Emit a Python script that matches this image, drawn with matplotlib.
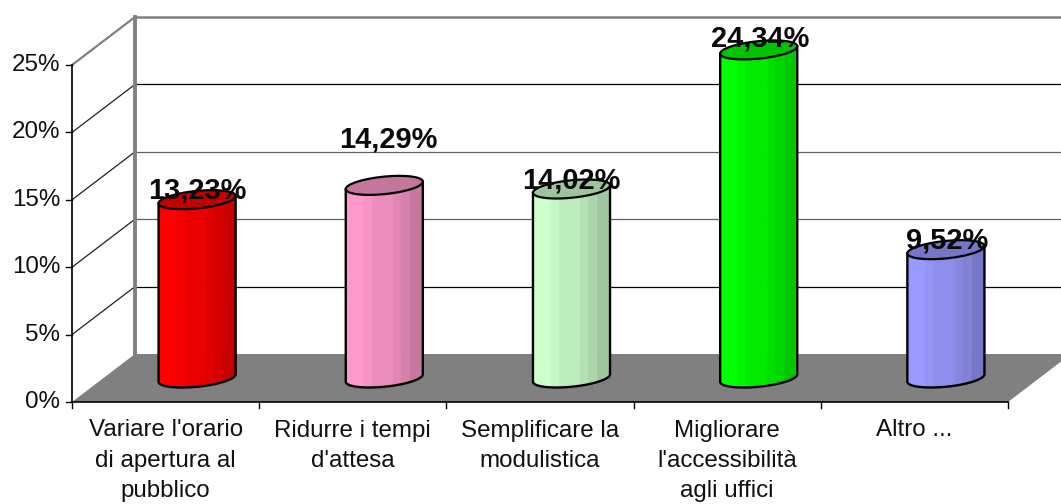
#!/usr/bin/env python3
# -*- coding: utf-8 -*-
import numpy as np
import matplotlib
matplotlib.use("Agg")
import matplotlib.pyplot as plt
from matplotlib.patches import Polygon

plt.rcParams['font.family'] = ['Liberation Sans', 'DejaVu Sans']

categorie = ["Variare l'orario\ndi apertura al\npubblico", "Ridurre i tempi\nd'attesa",
             "Semplificare la\nmodulistica", "Migliorare\nl'accessibilità\nagli uffici", "Altro ..."]
valori = [13.23, 14.29, 14.02, 24.34, 9.52]
etichette = ["13,23%", "14,29%", "14,02%", "24,34%", "9,52%"]
tick_valori = [0, 5, 10, 15, 20, 25]
tick_etichette = ["0%", "5%", "10%", "15%", "20%", "25%"]

colori = ["#ff0000", "#ff99cc", "#ccffcc", "#00ff00", "#9999ff"]
colori_top = ["#c40000", "#c4779d", "#9dc49d", "#00c400", "#7676c4"]
griglia = {5: "#000000", 10: "#606060", 15: "#606060", 20: "#000000"}

W, H = 1061, 504
X0, Y0 = 72, 402           # origine del piano frontale in pixel
CAT_W = 187.2              # pixel per categoria
PCT_H = 13.48              # pixel per punto percentuale
DEP_X, DEP_Y = 63, 48      # profondita' del 3D

fig = plt.figure(figsize=(W / 100, H / 100), dpi=100)
ax = fig.add_axes([0, 0, 1, 1])
# assi in unita' di categoria / percentuale
ax.set_xlim(-X0 / CAT_W, (W - X0) / CAT_W)
ax.set_ylim((Y0 - H) / PCT_H, Y0 / PCT_H)
ax.axis("off")

dx = DEP_X / CAT_W
dy = DEP_Y / PCT_H
n = len(valori)
top = tick_valori[-1]
grigio = "#808080"

# pavimento
ax.add_patch(Polygon([(0, 0), (n, 0), (n + dx, dy), (dx, dy)], fc=grigio, ec="none", zorder=1))

# griglia, pareti
for v in tick_valori[1:-1]:
    ax.plot([0, dx], [v, v + dy], color="#202020", lw=0.9, zorder=2)
    ax.plot([dx, n + dx], [v + dy, v + dy], color=griglia[v], lw=0.9, zorder=2)
ax.plot([0, dx], [top, top + dy], color=grigio, lw=1.6, zorder=2)
ax.plot([dx, n + dx], [top + dy, top + dy], color=grigio, lw=1.8, zorder=2)
ax.plot([dx, dx], [dy, top + dy], color=grigio, lw=2.8, zorder=2)

# assi frontali
ax.plot([0, 0], [0, top], color="black", lw=1.2, zorder=3)
ax.plot([0, n], [0, 0], color="black", lw=1.2, zorder=3)
for v, t in zip(tick_valori, tick_etichette):
    ax.plot([-6 / CAT_W, 0], [v, v], color="black", lw=1, zorder=3)
    ax.text(-12 / CAT_W, v, t, ha="right", va="center", fontsize=17.4, color="#111111")
for i in range(n + 1):
    ax.plot([i, i], [0, -6 / PCT_H], color="black", lw=1, zorder=3)

# ellisse di base del cilindro, inclinata come il pavimento
RX, SX, SY = 35.5 / CAT_W, 15 / CAT_W, 9.5 / PCT_H


def ellisse(cx, cy, t):
    return cx + RX * np.cos(t) + SX * np.sin(t), cy + SY * np.sin(t)


t_dx = np.arctan2(SX, RX)             # tangente destra
t_sx = t_dx + np.pi                   # tangente sinistra
# bande verticali del cilindro, da sinistra a destra
bande = np.array([0, .23, .35, .50, .62, .72, .84, 1.0])
scuro = np.array([1.0, .97, .92, .92, .88, .84, .78])
offset_etich = [9, 46, 9, 11, 9]
sposta_etich = [0, 4, 0, 1, 1]

for i in range(n):
    cx = i + 0.5 + dx / 2
    cy = dy / 2
    v = valori[i]
    base = np.array(matplotlib.colors.to_rgb(colori[i]))
    xl = cx + RX * np.cos(t_sx) + SX * np.sin(t_sx)
    xr = cx + RX * np.cos(t_dx) + SX * np.sin(t_dx)
    tt = np.linspace(t_sx, t_dx + 2 * np.pi, 80)
    ex, ey = ellisse(cx, cy, tt)   # arco frontale, da sinistra a destra
    for k in range(len(scuro)):
        a, b = xl + bande[k] * (xr - xl), xl + bande[k + 1] * (xr - xl)
        xs = np.linspace(a, b, 12)
        ys = np.interp(xs, ex, ey)
        poly = list(zip(xs, ys)) + list(zip(xs[::-1], ys[::-1] + v))
        c = base * scuro[k]
        ax.add_patch(Polygon(poly, fc=c, ec=c, lw=0.6, zorder=4))
    # contorno del corpo
    ax.plot(np.r_[ex[0], ex, ex[-1]], np.r_[cy + v + SY * np.sin(t_sx), ey, cy + v + SY * np.sin(t_dx)],
            color="black", lw=1.7, zorder=5)
    # coperchio
    tx, ty = ellisse(cx, cy + v, np.linspace(0, 2 * np.pi, 100))
    ax.add_patch(Polygon(np.c_[tx, ty], fc=colori_top[i], ec="black", lw=1.6, zorder=6))
    ax.text(cx + sposta_etich[i] / CAT_W, cy + v + offset_etich[i] / PCT_H, etichette[i], ha="center", va="center",
            fontsize=20.9, fontweight="bold", color="#0a0a0a", zorder=7)
    ax.text(i + 0.5, -17.5 / PCT_H, categorie[i], ha="center", va="top", fontsize=17.4,
            linespacing=1.5, color="#111111", clip_on=True)

fig.savefig("out.png", dpi=100)
